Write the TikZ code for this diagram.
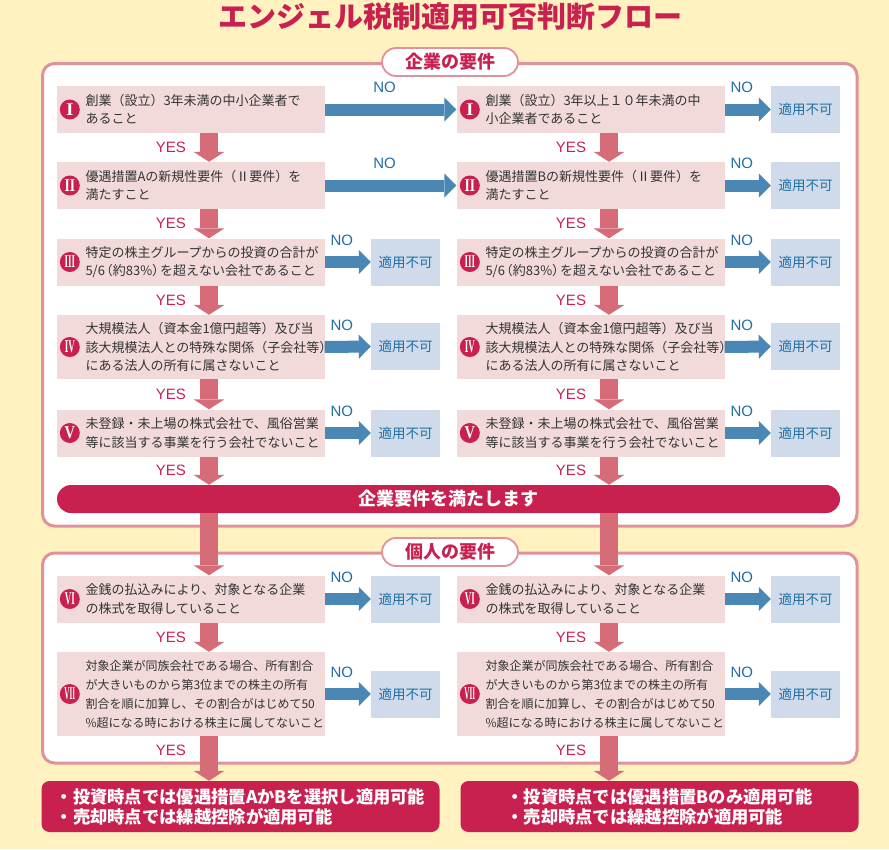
\documentclass[tikz,border=0pt]{standalone}
\usepackage{fontspec}
\setmainfont{Noto Sans CJK JP}
\newfontfamily\latinfont{Liberation Sans}
\newfontfamily\numfont{Liberation Serif}
\usepackage{tikz}
\usetikzlibrary{calc,arrows.meta}

\definecolor{bgyellow}{HTML}{FFF2C0}
\definecolor{framepink}{HTML}{E0929A}
\definecolor{boxpink}{HTML}{F2DADA}
\definecolor{nablue}{HTML}{CFDBEA}
\definecolor{arrblue}{HTML}{4A87B4}
\definecolor{txtblue}{HTML}{1F6EA6}
\definecolor{arrpink}{HTML}{D66C78}
\definecolor{crimson}{HTML}{C82150}
\definecolor{txtgray}{HTML}{333333}

% PARENTHESES ETROITES
\newcommand{\jlp}{\makebox[0.6em][r]{（}}
\newcommand{\jrp}{\makebox[0.6em][l]{）}}

\begin{document}
\begin{tikzpicture}[x=1pt,y=-1pt,
  frame/.style={draw=framepink, line width=3pt, fill=white, rounded corners=12pt},
  pill/.style={draw=framepink, line width=1.8pt, fill=white, rounded corners=14pt, minimum width=136pt, minimum height=28pt, inner sep=0pt, text=crimson, font=\bfseries\fontsize{18}{18}\selectfont},
  req/.style={fill=boxpink, text=txtgray, minimum height=47pt, text width=268pt, inner xsep=0pt, inner ysep=2pt, align=left, font=\fontsize{13}{18.5}\selectfont, execute at begin node={\leftskip=29pt}},
  rnum/.style={circle, fill=crimson, text=white, minimum size=20pt, inner sep=0pt, font=\numfont\bfseries\fontsize{18}{18}\selectfont},
  na/.style={fill=nablue, text=txtblue, minimum width=69pt, minimum height=47pt, inner sep=0pt, font=\fontsize{13.5}{13.5}\selectfont},
  okbar/.style={fill=crimson, text=white, rounded corners=14pt, minimum width=783pt, minimum height=28pt, inner sep=0pt, font=\bfseries\fontsize{18}{18}\selectfont},
  endbox/.style={fill=crimson, text=white, rounded corners=8pt, minimum width=398pt, minimum height=51pt, align=left, font=\bfseries\fontsize{17.3}{20}\selectfont},
  noarr/.style={draw=arrblue, line width=12pt, -{Triangle[length=12pt,width=24pt,line width=0pt]}},
  yesarr/.style={draw=arrpink, line width=18pt, -{Triangle[length=10pt,width=31pt,line width=0pt]}},
  nolbl/.style={midway, above=9.5pt, xshift=-6pt, inner sep=1pt, text=txtblue, font=\latinfont\fontsize{15}{15}\selectfont},
  yeslbl/.style={midway, left=13pt, inner sep=1pt, text=crimson, font=\latinfont\fontsize{15}{15}\selectfont}]

  % FOND
  \fill[bgyellow] (0,0) rectangle (889,849);
  \useasboundingbox (0,0) rectangle (889,849);

  \node[text=crimson, font=\bfseries\fontsize{29}{29}\selectfont] (T) at (450,17) {エンジェル税制適用可否判断フロー};

  % CADRES
  \draw[frame] (42.5,63.5) rectangle (857,526);
  \draw[frame] (42.5,553) rectangle (857,763);
  \node[pill] (P1) at (450,62) {企業の要件};
  \node[pill] (P2) at (450,552) {個人の要件};

  \coordinate (colL) at (209,0);
  \coordinate (colR) at (609,0);

  % COLONNE GAUCHE
  \node[req] (A) at (190.5,109.5) {創業（設立）3年未満の中小企業者で\\あること};
  \node[req] (B) at (190.5,185.5) {優遇措置Aの新規性要件（Ⅱ要件）を\\満たすこと};
  \node[req] (C) at (190.5,262) {特定の株主グループからの投資の合計が\\5/6\jlp 約83\%\jrp を超えない会社であること};
  \node[req, minimum height=64pt] (D) at (190.5,347) {大規模法人（資本金1億円超等）及び当\\該大規模法人との特殊な関係（子会社等）\\にある法人の所有に属さないこと};
  \node[req] (E) at (190.5,433) {未登録・未上場の株式会社で、風俗営業\\等に該当する事業を行う会社でないこと};
  \node[req] (F) at (190.5,599) {金銭の払込みにより、対象となる企業\\の株式を取得していること};
  \node[req, minimum height=84pt, font=\fontsize{12}{19}\selectfont] (G) at (190.5,694) {対象企業が同族会社である場合、所有割合\\が大きいものから第3位までの株主の所有\\割合を順に加算し、その割合がはじめて50\\\%超になる時における株主に属してないこと};

  \node[rnum] (cA) at ($(A.west)+(13.5,0)$) {I};
  \node[rnum] (cB) at ($(B.west)+(13.5,0)$) {\scalebox{0.75}[1]{II}};
  \node[rnum] (cC) at ($(C.west)+(13.5,0)$) {\scalebox{0.5}[1]{III}};
  \node[rnum] (cD) at ($(D.west)+(13.5,0)$) {\scalebox{0.5}[1]{IV}};
  \node[rnum] (cE) at ($(E.west)+(13.5,0)$) {\scalebox{0.8}[1]{V}};
  \node[rnum] (cF) at ($(F.west)+(13.5,0)$) {\scalebox{0.5}[1]{VI}};
  \node[rnum] (cG) at ($(G.west)+(13.5,0)$) {\scalebox{0.4}[1]{VII}};

  \node[na] (XC) at (405.5,262) {適用不可};
  \node[na] (XD) at (405.5,346.5) {適用不可};
  \node[na] (XE) at (405.5,433) {適用不可};
  \node[na] (XF) at (405.5,599) {適用不可};
  \node[na] (XG) at (405.5,694) {適用不可};

  % COLONNE DROITE
  \node[req] (A2) at (590.5,109.5) {創業（設立）3年以上１０年未満の中\\小企業者であること};
  \node[req] (B2) at (590.5,185.5) {優遇措置Bの新規性要件（Ⅱ要件）を\\満たすこと};
  \node[req] (C2) at (590.5,262) {特定の株主グループからの投資の合計が\\5/6\jlp 約83\%\jrp を超えない会社であること};
  \node[req, minimum height=64pt] (D2) at (590.5,347) {大規模法人（資本金1億円超等）及び当\\該大規模法人との特殊な関係（子会社等）\\にある法人の所有に属さないこと};
  \node[req] (E2) at (590.5,433) {未登録・未上場の株式会社で、風俗営業\\等に該当する事業を行う会社でないこと};
  \node[req] (F2) at (590.5,599) {金銭の払込みにより、対象となる企業\\の株式を取得していること};
  \node[req, minimum height=84pt, font=\fontsize{12}{19}\selectfont] (G2) at (590.5,694) {対象企業が同族会社である場合、所有割合\\が大きいものから第3位までの株主の所有\\割合を順に加算し、その割合がはじめて50\\\%超になる時における株主に属してないこと};

  \node[rnum] (cA2) at ($(A2.west)+(13.5,0)$) {I};
  \node[rnum] (cB2) at ($(B2.west)+(13.5,0)$) {\scalebox{0.75}[1]{II}};
  \node[rnum] (cC2) at ($(C2.west)+(13.5,0)$) {\scalebox{0.5}[1]{III}};
  \node[rnum] (cD2) at ($(D2.west)+(13.5,0)$) {\scalebox{0.5}[1]{IV}};
  \node[rnum] (cE2) at ($(E2.west)+(13.5,0)$) {\scalebox{0.8}[1]{V}};
  \node[rnum] (cF2) at ($(F2.west)+(13.5,0)$) {\scalebox{0.5}[1]{VI}};
  \node[rnum] (cG2) at ($(G2.west)+(13.5,0)$) {\scalebox{0.4}[1]{VII}};

  \node[na] (XA2) at (805.5,109.5) {適用不可};
  \node[na] (XB2) at (805.5,185.5) {適用不可};
  \node[na] (XC2) at (805.5,262) {適用不可};
  \node[na] (XD2) at (805.5,346.5) {適用不可};
  \node[na] (XE2) at (805.5,433) {適用不可};
  \node[na] (XF2) at (805.5,599) {適用不可};
  \node[na] (XG2) at (805.5,694) {適用不可};

  % BARRE ET RESULTATS
  \node[okbar] (S) at (448.5,499) {企業要件を満たします};
  \node[endbox] (R1) at (240.5,806.5) {・投資時点では優遇措置AかBを選択し適用可能\\・売却時点では繰越控除が適用可能};
  \node[endbox] (R2) at (659.5,806.5) {・投資時点では優遇措置Bのみ適用可能\\・売却時点では繰越控除が適用可能};

  % FLECHES NO
  \draw[noarr] (A.east) -- node[nolbl] (nA) {NO} (A2.west);
  \draw[noarr] (B.east) -- node[nolbl] (nB) {NO} (B2.west);
  \draw[noarr] (C.east) -- node[nolbl] (nC) {NO} (XC.west);
  \draw[noarr] (D.east) -- node[nolbl] (nD) {NO} (XD.west);
  \draw[noarr] (E.east) -- node[nolbl] (nE) {NO} (XE.west);
  \draw[noarr] (F.east) -- node[nolbl] (nF) {NO} (XF.west);
  \draw[noarr] (G.east) -- node[nolbl] (nG) {NO} (XG.west);
  \draw[noarr] (A2.east) -- node[nolbl] (nA2) {NO} (XA2.west);
  \draw[noarr] (B2.east) -- node[nolbl] (nB2) {NO} (XB2.west);
  \draw[noarr] (C2.east) -- node[nolbl] (nC2) {NO} (XC2.west);
  \draw[noarr] (D2.east) -- node[nolbl] (nD2) {NO} (XD2.west);
  \draw[noarr] (E2.east) -- node[nolbl] (nE2) {NO} (XE2.west);
  \draw[noarr] (F2.east) -- node[nolbl] (nF2) {NO} (XF2.west);
  \draw[noarr] (G2.east) -- node[nolbl] (nG2) {NO} (XG2.west);

  % FLECHES YES GAUCHE
  \draw[yesarr] (A.south -| colL) -- node[yeslbl] (yA) {YES} (B.north -| colL);
  \draw[yesarr] (B.south -| colL) -- node[yeslbl] (yB) {YES} (C.north -| colL);
  \draw[yesarr] (C.south -| colL) -- node[yeslbl] (yC) {YES} (D.north -| colL);
  \draw[yesarr] (D.south -| colL) -- node[yeslbl] (yD) {YES} (E.north -| colL);
  \draw[yesarr] (E.south -| colL) -- node[yeslbl] (yE) {YES} (S.north -| colL);
  \draw[yesarr] (S.south -| colL) -- (F.north -| colL);
  \draw[yesarr] (F.south -| colL) -- node[yeslbl] (yF) {YES} (G.north -| colL);
  \draw[yesarr] (G.south -| colL) -- node[yeslbl, pos=0.31] (yG) {YES} (R1.north -| colL);

  % FLECHES YES DROITE
  \draw[yesarr] (A2.south -| colR) -- node[yeslbl] (yA2) {YES} (B2.north -| colR);
  \draw[yesarr] (B2.south -| colR) -- node[yeslbl] (yB2) {YES} (C2.north -| colR);
  \draw[yesarr] (C2.south -| colR) -- node[yeslbl] (yC2) {YES} (D2.north -| colR);
  \draw[yesarr] (D2.south -| colR) -- node[yeslbl] (yD2) {YES} (E2.north -| colR);
  \draw[yesarr] (E2.south -| colR) -- node[yeslbl] (yE2) {YES} (S.north -| colR);
  \draw[yesarr] (S.south -| colR) -- (F2.north -| colR);
  \draw[yesarr] (F2.south -| colR) -- node[yeslbl] (yF2) {YES} (G2.north -| colR);
  \draw[yesarr] (G2.south -| colR) -- node[yeslbl, pos=0.31] (yG2) {YES} (R2.north -| colR);
\end{tikzpicture}
\end{document}
